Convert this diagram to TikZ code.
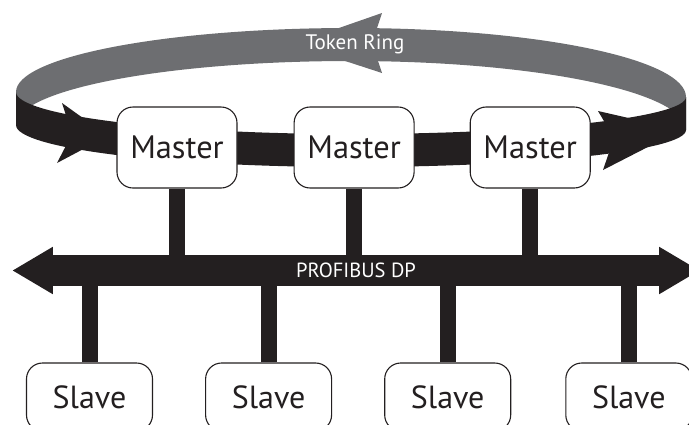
\documentclass[tikz,border=0pt]{standalone}
\usepackage{fontspec}
\setmainfont{PT Sans}
\usetikzlibrary{positioning,calc}

\definecolor{ink}{HTML}{231F20}
\definecolor{ringgray}{HTML}{6D6E71}

\tikzset{
    box/.style={draw=ink, line width=1.1pt, fill=white, rounded corners=16pt,
        inner sep=0pt, text=ink},
    master/.style={box, minimum width=120pt, minimum height=81pt,
        font=\fontsize{32.4}{32.4}\selectfont},
    slave/.style={box, minimum width=126pt, minimum height=68pt,
        font=\fontsize{32}{32}\selectfont},
    stem/.style={draw=ink, line width=16pt},
    busbar/.style={fill=ink, text=white, inner sep=0pt, minimum width=606pt,
        minimum height=31pt, font=\fontsize{20.5}{20.5}\selectfont},
    ringtext/.style={text=white, inner sep=0pt, anchor=base,
        font=\fontsize{21}{21}\selectfont},
}

\begin{document}
\begin{tikzpicture}[x=1pt, y=-1pt]
    \clip (0,0) rectangle (689,424);

    % back of the ring
    \fill[ringgray] (16,92) .. controls (16,56.7) and (166,28) .. (351,28)
        .. controls (536,28) and (686,58.9) .. (686,97) -- (686,130)
        .. controls (686,91.9) and (536,61) .. (351,61)
        .. controls (166,61) and (16,89.7) .. (16,125) -- cycle;
    \fill[ringgray] (382,13) -- (293,44) -- (382,73) -- (372,43) -- cycle;
    \node[ringtext] (ringlabel) at (355,49) {Token Ring};

    % front of the ring
    \fill[ink] (16,92) .. controls (16,115.2) and (166,134) .. (351,134)
        .. controls (536,134) and (686,117.4) .. (686,97) -- (686,130)
        .. controls (686,150.4) and (536,167) .. (351,167)
        .. controls (166,167) and (16,148.2) .. (16,125) -- cycle;
    \fill[ink] (62,103) -- (108,136) -- (57,163) -- (72,134) -- cycle;
    \fill[ink] (598,111) -- (681,130) -- (603,170) -- (614,138) -- cycle;

    % masters
    \node[master] (m1) at (177,147.5) {Master};
    \node[master, right=56pt of m1] (m2) {Master};
    \node[master, right=55pt of m2] (m3) {Master};

    % bus
    \node[busbar] (bus) at (356,270.5) {PROFIBUS DP};
    \fill[ink] (bus.north west) -- ++(0,-8) -- ($(bus.west)+(-40,0)$)
        -- ($(bus.south west)+(0,8)$) -- cycle;
    \fill[ink] (bus.north east) -- ++(0,-8) -- ($(bus.east)+(40,0)$)
        -- ($(bus.south east)+(0,8)$) -- cycle;

    % slaves
    \node[slave] (s1) at (89.5,397) {Slave};
    \node[slave, right=52pt of s1] (s2) {Slave};
    \node[slave, right=52pt of s2] (s3) {Slave};
    \node[slave, right=54pt of s3] (s4) {Slave};

    % stems
    \foreach \m in {m1,m2,m3}
        \draw[stem] (\m.south) -- (\m.south |- bus.north);
    \foreach \s in {s1,s2,s3,s4}
        \draw[stem] (\s.north) -- (\s.north |- bus.south);
\end{tikzpicture}
\end{document}
